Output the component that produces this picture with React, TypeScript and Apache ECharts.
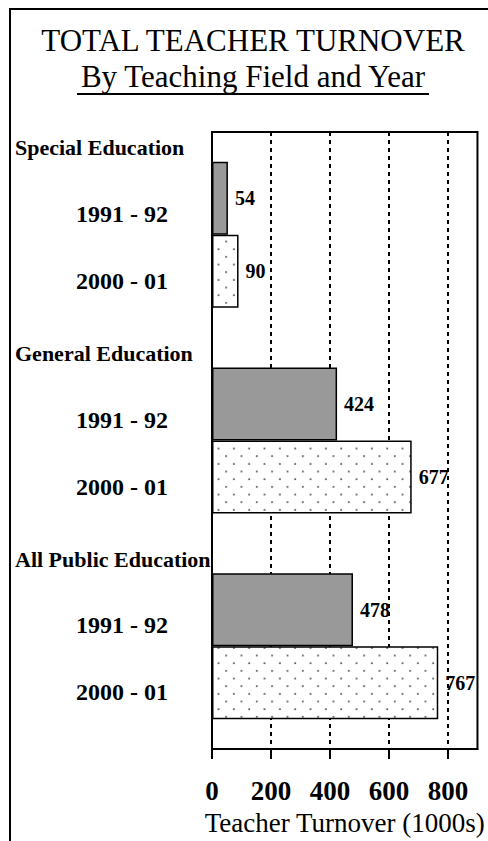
import React, { useEffect, useRef } from 'react';
import * as echarts from 'echarts';

const fields = ['Special Education', 'General Education', 'All Public Education'];
const years = ['1991 - 92', '2000 - 01'];
const turnover1991 = [54, 424, 478];
const turnover2000 = [90, 677, 767];
const xTicks = [0, 200, 400, 600, 800];
const titleText = 'TOTAL TEACHER TURNOVER';
const subtitleText = 'By Teaching Field and Year';
const axisTitle = 'Teacher Turnover (1000s)';

const SERIF = '"Liberation Serif", "Times New Roman", serif';

function makeDots(): HTMLCanvasElement {
  const c = document.createElement('canvas');
  c.width = 46;
  c.height = 46;
  const ctx = c.getContext('2d')!;
  ctx.fillStyle = '#ffffff';
  ctx.fillRect(0, 0, 46, 46);
  ctx.fillStyle = '#333333';
  [[11.5, 11.5], [34.5, 34.5]].forEach(([x, y]) => {
    ctx.beginPath();
    ctx.arc(x, y, 2.6, 0, Math.PI * 2);
    ctx.fill();
  });
  return c;
}

export default function App() {
  const ref = useRef<HTMLDivElement>(null);
  useEffect(() => {
    if (!ref.current) return;
    const chart = echarts.init(ref.current, null, { renderer: 'svg' });
    const dots = makeDots();
    const valueLabel = {
      show: true,
      position: 'right',
      distance: 7,
      fontFamily: SERIF,
      fontWeight: 'bold',
      fontSize: 20,
      color: '#000',
    };
    const txt = (text: string, x: number, y: number, font: string, align: string) => ({
      type: 'text',
      x,
      y,
      style: {
        text,
        font,
        fill: '#000',
        align,
        verticalAlign: 'middle',
        textAlign: align,
        textVerticalAlign: 'middle',
      },
    });
    chart.setOption({
      animation: false,
      backgroundColor: '#ffffff',
      graphic: [
        {
          type: 'rect',
          shape: { x: 10, y: 9, width: 500, height: 860 },
          style: { fill: 'none', stroke: '#000', lineWidth: 2 },
          silent: true,
        },
        txt(titleText, 253, 40, `31px ${SERIF}`, 'center'),
        txt(subtitleText, 253, 76, `31px ${SERIF}`, 'center'),
        {
          type: 'line',
          shape: { x1: 77, y1: 94, x2: 429, y2: 94 },
          style: { stroke: '#000', lineWidth: 2 },
          silent: true,
        },
      ],
      grid: {
        left: 212,
        right: 10,
        top: 132,
        bottom: 91,
        show: true,
        borderColor: '#000',
        borderWidth: 2,
        containLabel: false,
      },
      xAxis: {
        type: 'value',
        min: 0,
        max: 900,
        interval: 200,
        axisLine: { show: true, lineStyle: { color: '#000', width: 2 } },
        axisTick: {
          show: true,
          length: 10,
          customValues: xTicks,
          lineStyle: { color: '#000', width: 2 },
        },
        axisLabel: {
          customValues: xTicks,
          margin: 28,
          fontFamily: SERIF,
          fontWeight: 'bold',
          fontSize: 27,
          color: '#000',
        },
        splitLine: {
          show: true,
          showMinLine: false,
          showMaxLine: true,
          lineStyle: { color: '#000', width: 2, type: [4, 4] },
        },
        name: axisTitle,
        nameLocation: 'middle',
        nameGap: 50,
        nameTextStyle: { fontFamily: SERIF, fontSize: 27, color: '#000' },
      },
      yAxis: {
        type: 'category',
        data: fields,
        inverse: true,
        axisLine: { show: true, lineStyle: { color: '#000', width: 2 } },
        axisTick: { show: false },
        axisLabel: { show: false },
        splitLine: { show: false },
      },
      series: [
        {
          type: 'bar',
          name: years[0],
          data: turnover1991,
          barWidth: 73,
          barGap: '0%',
          itemStyle: { color: '#999999', borderColor: '#000', borderWidth: 1.5 },
          label: valueLabel,
        },
        {
          type: 'bar',
          name: years[1],
          data: turnover2000,
          barWidth: 73,
          barGap: '0%',
          itemStyle: {
            color: { image: dots, repeat: 'repeat', scaleX: 1 / 3, scaleY: 1 / 3 },
            borderColor: '#000',
            borderWidth: 1.5,
          },
          label: valueLabel,
        },
        {
          type: 'custom',
          coordinateSystem: 'cartesian2d',
          data: fields.map((_, i) => [0, i]),
          encode: { x: 0, y: 1 },
          silent: true,
          z: 10,
          clip: false,
          renderItem: (params: any, api: any) => {
            const i = params.dataIndex;
            const cy = api.coord([0, i])[1];
            return {
              type: 'group',
              children: [
                txt(fields[i], 15, cy - 87, `bold 22px ${SERIF}`, 'left'),
                txt(years[0], 122, cy - 21, `bold 24px ${SERIF}`, 'center'),
                txt(years[1], 122, cy + 46, `bold 24px ${SERIF}`, 'center'),
              ],
            };
          },
        },
      ],
    } as any);
    return () => chart.dispose();
  }, []);
  return (
    <div
      ref={ref}
      style={{ position: 'fixed', left: 0, top: 0, width: 488, height: 841, background: '#fff' }}
    />
  );
}
